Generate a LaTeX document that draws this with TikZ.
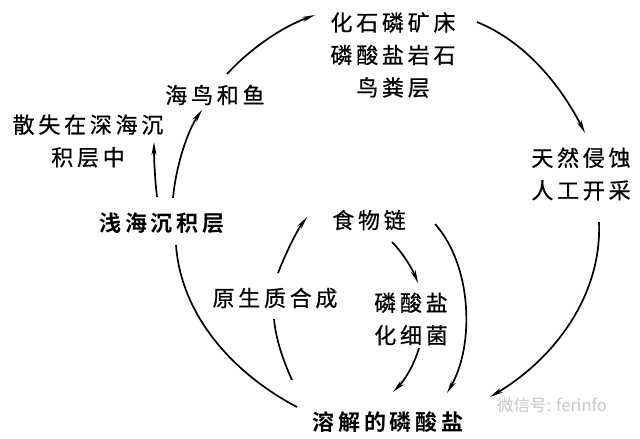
\documentclass[tikz,border=0pt]{standalone}
\usepackage{fontspec}
\usetikzlibrary{arrows.meta}
\newfontfamily\cjk[LetterSpace=17,FakeBold=0.6]{Noto Sans CJK SC}
\newfontfamily\cjkb[LetterSpace=17]{Noto Sans CJK SC Bold}
\newfontfamily\wmfont{Noto Sans CJK SC}
\begin{document}
\begin{tikzpicture}[x=1pt,y=-1pt,
  lbl/.style={font=\cjk\fontsize{22}{32.5}\selectfont, align=center, inner sep=0pt},
  blbl/.style={lbl, font=\cjkb\fontsize{22}{32.5}\selectfont},
  wmark/.style={font=\wmfont\fontsize{16.5}{20}\selectfont, text=black!22, inner sep=0pt},
  flow/.style={line width=1.7pt, -{Stealth[length=13pt,width=5pt]}},
  plainline/.style={line width=1.7pt}]
\path[use as bounding box, fill=white] (0,0) rectangle (640,439);

% labels
\node[lbl] (fossil) at (393,55) {化石磷矿床\\磷酸盐岩石\\鸟粪层};
\node[lbl] (erosion) at (581,174) {天然侵蚀\\人工开采};
\node[lbl] (birds) at (215,95) {海鸟和鱼};
\node[lbl] (deep) at (88,141) {散失在深海沉\\积层中};
\node[blbl] (shallow) at (162,223) {浅海沉积层};
\node[lbl] (food) at (369,220) {食物链};
\node[lbl] (proto) at (275,298) {原生质合成};
\node[lbl] (bact) at (411,319) {磷酸盐\\化细菌};
\node[blbl] (diss) at (388,422) {溶解的磷酸盐};
\node[wmark] (mark) at (552,405) {微信号: ferinfo};

% connector end points
\coordinate (birdsOut) at (227,74);
\coordinate (fossilIn) at (315,15);
\coordinate (fossilOut) at (477,22);
\coordinate (erosionIn) at (585,133);
\coordinate (erosionOut) at (599,222);
\coordinate (dissInR) at (490,397);
\coordinate (shallowOutD) at (176,245);
\coordinate (dissInL) at (297,407);
\coordinate (shallowOutA) at (157,197);
\coordinate (deepIn) at (154,142);
\coordinate (shallowOutB) at (173,198);
\coordinate (birdsIn) at (202,110);
\coordinate (dissOutP) at (292,380);
\coordinate (protoInB) at (274,319);
\coordinate (protoOut) at (278,273);
\coordinate (foodInL) at (307,217);
\coordinate (foodOutB) at (392,242);
\coordinate (bactIn) at (418,283);
\coordinate (bactOut) at (419,348);
\coordinate (dissInB) at (393,392);
\coordinate (foodOutR) at (435,224);
\coordinate (dissInF) at (447,393);

% outer cycle
\draw[flow] (birdsOut) .. controls (251,48) and (282,27) .. (fossilIn);
\draw[flow] (fossilOut) .. controls (526,42) and (561,86) .. (erosionIn);
\draw[flow] (erosionOut) .. controls (602,296) and (554,359) .. (dissInR);
\draw[plainline] (shallowOutD) .. controls (181,316) and (234,374) .. (dissInL);
\draw[flow] (shallowOutA) .. controls (155,180) and (154,160) .. (deepIn);
\draw[flow] (shallowOutB) .. controls (176,165) and (188,130) .. (birdsIn);

% inner cycle
\draw[plainline] (dissOutP) .. controls (283,360) and (276,340) .. (protoInB);
\draw[flow] (protoOut) .. controls (285,255) and (296,232) .. (foodInL);
\draw[flow] (foodOutB) .. controls (402,252) and (412,268) .. (bactIn);
\draw[flow] (bactOut) .. controls (414,365) and (405,380) .. (dissInB);
\draw[flow] (foodOutR) .. controls (472,265) and (475,345) .. (dissInF);
\end{tikzpicture}
\end{document}
